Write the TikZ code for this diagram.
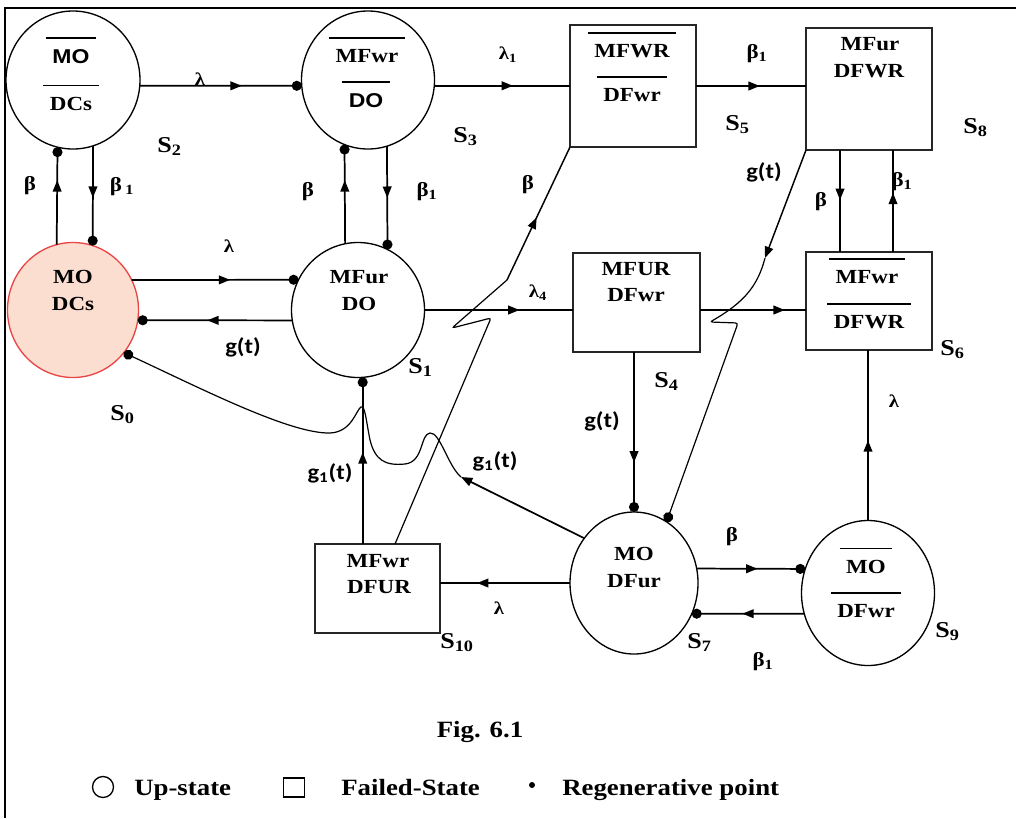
\documentclass[tikz,border=0pt]{standalone}
\usepackage{fontspec}
\setmainfont{Liberation Serif}[FakeStretch=1.15]
\newfontfamily\arsf{Liberation Sans}[FakeStretch=1.15]
\newfontfamily\calf{Carlito}[FakeStretch=1.15]
\usetikzlibrary{shapes.geometric,arrows.meta,decorations.markings,calc}
\definecolor{sofill}{RGB}{251,222,208}
\definecolor{soline}{RGB}{232,70,70}
\newcommand\ovl[1]{\setbox0=\hbox{#1}\dimen0=\dimexpr\wd0+0.65em\relax\vbox{\hrule height 1.2pt width \dimen0\kern0.52em\hbox to \dimen0{\hfil\box0\hfil}}}
\tikzset{
  upc/.style={ellipse, draw, line width=1pt, inner sep=0pt, outer sep=0pt},
  fbox/.style={rectangle, draw=black!85, line width=1.1pt, inner sep=0pt, outer sep=0pt},
  nt/.style={font=\bfseries\fontsize{15}{17}\selectfont, inner sep=0pt, anchor=base},
  sl/.style={font=\bfseries\fontsize{17}{19}\selectfont, inner sep=0pt, anchor=base west},
  gl/.style={font=\bfseries\fontsize{15}{17}\selectfont, inner sep=0pt},
  ll/.style={font=\bfseries\fontsize{13.5}{15}\selectfont, inner sep=0pt},
  tl/.style={font=\calf\bfseries\fontsize{16}{18}\selectfont, inner sep=0pt},
  leg/.style={font=\bfseries\fontsize{17.5}{20}\selectfont, inner sep=0pt},
  conn/.style={line width=1.3pt},
  wire/.style={line width=0.9pt},
  midarr/.style={postaction={decorate}, decoration={markings, mark=at position #1 with {\arrow{Triangle[length=8.5pt,width=6.5pt]}}}},
  dotend/.style={-{Circle[length=7.5pt]}},
  endarr/.style={-{Triangle[length=8.5pt,width=6.5pt]}}
}
\begin{document}
\begin{tikzpicture}[x=0.75pt,y=-0.75pt]
\useasboundingbox (0,0) rectangle (1016,818);
% frame
\draw[line width=1.5pt] (1016,8) -- (5,8) -- (5,818);
% states
\node[upc, minimum width=100.5pt, minimum height=103.5pt] (s2) at (73,80) {};
\node[upc, minimum width=99.75pt, minimum height=103.5pt] (s3) at (368,80) {};
\node[upc, draw=soline, fill=sofill, minimum width=98.25pt, minimum height=101.25pt] (s0) at (73,310) {};
\node[upc, minimum width=99.75pt, minimum height=101.25pt] (s1) at (358,310) {};
\node[upc, minimum width=96pt, minimum height=106.5pt] (s7) at (634,583) {};
\node[upc, minimum width=99.75pt, minimum height=108.75pt] (s9) at (868,593) {};
\node[fbox, minimum width=94.5pt, minimum height=91.5pt] (s5) at (633,86) {};
\node[fbox, minimum width=94.5pt, minimum height=91.5pt] (s8) at (869,89) {};
\node[fbox, minimum width=95.25pt, minimum height=74.25pt] (s4) at (636.5,302.5) {};
\node[fbox, minimum width=94.5pt, minimum height=73.5pt] (s6) at (869,301) {};
\node[fbox, minimum width=93.75pt, minimum height=66.75pt] (s10) at (377.5,588.5) {};
% state texts
\node[nt] (t2a) at (71,63) {\ovl{\arsf\bfseries MO}};
\node[nt] (t2b) at (71,110) {\ovl{DCs}};
\node[nt] (t3a) at (367,62) {\ovl{MFwr}};
\node[nt] (t3b) at (366,107) {\ovl{\arsf\bfseries DO}};
\node[nt] (t5a) at (632,57) {\ovl{MFWR}};
\node[nt] (t5b) at (632,101) {\ovl{DFwr}};
\node[nt] (t8a) at (870,50) {MFur};
\node[nt] (t8b) at (869,77) {DFWR};
\node[nt] (t0a) at (73,283) {MO};
\node[nt] (t0b) at (73,310) {DCs};
\node[nt] (t1a) at (359,283) {MFur};
\node[nt] (t1b) at (359,310) {DO};
\node[nt] (t4a) at (636,275) {MFUR};
\node[nt] (t4b) at (636,301) {DFwr};
\node[nt] (t6a) at (867,283) {\ovl{MFwr}};
\node[nt] (t6b) at (869,328) {\ovl{DFWR}};
\node[nt] (t10a) at (378,567) {MFwr};
\node[nt] (t10b) at (379,593) {DFUR};
\node[nt] (t7a) at (634,560) {MO};
\node[nt] (t7b) at (634,587) {DFur};
\node[nt] (t9a) at (866,573) {\ovl{MO}};
\node[nt] (t9b) at (866,617) {\ovl{DFwr}};
% state labels
\node[sl] (l2) at (157,152) {S\textsubscript{2}};
\node[sl] (l3) at (453,142) {S\textsubscript{3}};
\node[sl] (l5) at (725,130) {S\textsubscript{5}};
\node[sl] (l8) at (963,133) {S\textsubscript{8}};
\node[sl] (l0) at (110,420) {S\textsubscript{0}};
\node[sl] (l1) at (408,373) {S\textsubscript{1}};
\node[sl] (l4) at (654,387) {S\textsubscript{4}};
\node[sl] (l6) at (940,355) {S\textsubscript{6}};
\node[sl] (l10) at (440,648) {S\textsubscript{10}};
\node[sl] (l7) at (687,648) {S\textsubscript{7}};
\node[sl] (l9) at (935,637) {S\textsubscript{9}};
% connectors
\draw[conn, midarr=0.63, dotend] (s2.355) -- (s3.185);
\draw[conn, midarr=0.58] (s3.355) -- (s3.355 -| s5.west);
\draw[conn, midarr=0.58] (s5.east) -- (s5.east -| s8.west);
\draw[conn, midarr=0.66, dotend] (s0.104) -- (s2.257);
\draw[conn, midarr=0.52, dotend] (s2.287) -- (s0.73);
\draw[conn, midarr=0.59, dotend] (s0.27) -- (s1.153);
\draw[conn, midarr=0.55, dotend] (s1.189) -- (s0.351);
\draw[conn, midarr=0.64, dotend] (s1.101) -- (s3.250);
\draw[conn, midarr=0.5, dotend] (s3.286) -- (s1.64);
\draw[conn, midarr=0.64] (s1.east) -- (s1.east -| s4.west);
\draw[conn, midarr=0.8] ($(s4.east)+(0,7.5)$) coordinate (a46) -- (a46 -| s6.west);
\draw[conn, midarr=0.49] ($(s8.south)+(-29,0)$) coordinate (a86) -- (a86 |- s6.north);
\draw[conn, midarr=0.58] ($(s6.north)+(24,0)$) coordinate (a68) -- (a68 |- s8.south);
\draw[conn, midarr=0.69, dotend] (s7.north |- s4.south) -- (s7.north);
\draw[conn, midarr=0.56, dotend] (s7.13) -- (s9.159);
\draw[conn, midarr=0.55, dotend] (s9.198) -- (s7.332);
\draw[conn, midarr=0.47] (s9.north) -- (s9.north |- s6.south);
\draw[conn, midarr=0.715] (s7.west) -- (s7.west -| s10.east);
\draw[conn, midarr=0.55, dotend] (s1.274 |- s10.north) -- (s1.274);
% S10 -> S5 with jump
\draw[wire, rounded corners=2pt] ($(s10.north)+(17.5,0)$) -- (491,318) -- (452,328) -- (507,280) coordinate (j5);
\draw[line width=1.1pt, midarr=0.47] (j5) -- (s5.south west);
% S8 -> S7 with jump
\draw[line width=1.1pt, endarr] (s8.south west) -- (765,258) coordinate (j7);
\draw[wire, rounded corners=2pt, dotend] (j7) .. controls (758,285) and (745,302) .. (710,322) -- (738,323) -- (s7.62);
% S7 -> S0 with bumps
\draw[conn, endarr] (s7.138) -- (461,477) coordinate (j0);
\draw[wire, dotend] (j0) .. controls (448,466) and (440,432) .. (430,433)
  .. controls (420,434) and (424,462) .. (405,464)
  .. controls (385,466) and (375,460) .. (370,440)
  .. controls (366,420) and (365,405) .. (361,407)
  .. controls (356,410) and (352,432) .. (330,433)
  .. controls (290,434) and (200,388) .. (s0.320);
% transition labels
\node[ll] (k1) at (200,79) {λ};
\node[ll] (k2) at (508,55) {λ\textsubscript{1}};
\node[ll] (k3) at (229,246) {λ};
\node[ll] (k4) at (538,293) {λ\textsubscript{4}};
\node[ll] (k5) at (894,401) {λ};
\node[ll] (k6) at (499,608) {λ};
\node[gl] (b1) at (30,186) {β};
\node[gl] (b2) at (122,187) {β\,\textsubscript{1}};
\node[gl] (b3) at (308,192) {β};
\node[gl] (b4) at (427,192) {β\textsubscript{1}};
\node[gl] (b5) at (528,185) {β};
\node[gl] (b6) at (757,54) {β\textsubscript{1}};
\node[gl] (b7) at (821,202) {β};
\node[gl] (b8) at (902,182) {β\textsubscript{1}};
\node[gl] (b9) at (732,537) {β};
\node[gl] (b10) at (763,662) {β\textsubscript{1}};
\node[tl] (g1) at (243,347) {g(t)};
\node[tl] (g2) at (764,172) {g(t)};
\node[tl] (g3) at (602,421) {g(t)};
\node[tl] (g4) at (330,473) {g\textsubscript{1}(t)};
\node[tl] (g5) at (495,461) {g\textsubscript{1}(t)};
% caption and legend
\node[leg, anchor=base] (cap) at (480,737) {Fig. 6.1};
\node[draw, circle, line width=1pt, minimum size=15.75pt, inner sep=0pt] (lc) at (103,787) {};
\node[draw, rectangle, line width=1pt, minimum width=15.75pt, minimum height=14.25pt, inner sep=0pt] (lsq) at (294,787.5) {};
\node[circle, fill, inner sep=0pt, minimum size=4.5pt] (lb) at (532,785) {};
\node[leg, anchor=base west] (lt1) at (134,795) {Up-state};
\node[leg, anchor=base west] (lt2) at (341,795) {Failed-State};
\node[leg, anchor=base west] (lt3) at (562,795) {Regenerative point};
\end{tikzpicture}
\end{document}
